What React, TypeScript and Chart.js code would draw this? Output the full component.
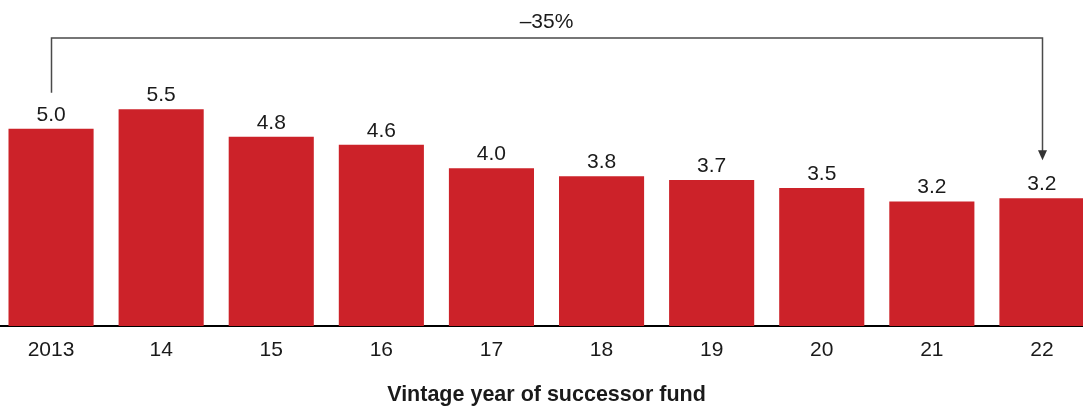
import React, { useEffect, useRef } from "react";
import { Chart, registerables } from "chart.js";

Chart.register(...registerables);

const categories = ["2013", "14", "15", "16", "17", "18", "19", "20", "21", "22"];
const values = [5.0, 5.5, 4.8, 4.6, 4.0, 3.8, 3.7, 3.5, 3.16, 3.24];
const changeLabel = "\u201335%";
const changeFrom = 0;
const changeTo = 9;
const axisTitle = "Vintage year of successor fund";

const FONT = "'Liberation Sans', Arial, Helvetica, sans-serif";
const BAR_COLOR = "#CC2229";
const TEXT_COLOR = "#1a1a1a";
const LINE_COLOR = "#4a4a4a";

const valueLabelPlugin = {
  id: "valueLabels",
  afterDatasetsDraw(chart: any) {
    const ctx = chart.ctx;
    const meta = chart.getDatasetMeta(0);
    ctx.save();
    ctx.font = `21px ${FONT}`;
    ctx.fillStyle = TEXT_COLOR;
    ctx.textAlign = "center";
    ctx.textBaseline = "alphabetic";
    meta.data.forEach((el: any, i: number) => {
      ctx.fillText(values[i].toFixed(1), el.x, el.y - 8);
    });
    ctx.restore();
  },
};

const bracketPlugin = {
  id: "bracket",
  afterDatasetsDraw(chart: any) {
    const ctx = chart.ctx;
    const meta = chart.getDatasetMeta(0);
    const a = meta.data[changeFrom];
    const b = meta.data[changeTo];
    const yTop = chart.chartArea.top - 12;
    const x1 = Math.round(a.x) + 0.5;
    const x2 = Math.round(b.x) + 0.5;
    const yStart = a.y - 36;
    const yTip = b.y - 38;
    ctx.save();
    ctx.strokeStyle = LINE_COLOR;
    ctx.lineWidth = 1.5;
    ctx.beginPath();
    ctx.moveTo(x1, yStart);
    ctx.lineTo(x1, yTop);
    ctx.lineTo(x2, yTop);
    ctx.lineTo(x2, yTip - 9);
    ctx.stroke();
    ctx.fillStyle = "#333";
    ctx.beginPath();
    ctx.moveTo(x2 - 4.5, yTip - 10);
    ctx.lineTo(x2 + 4.5, yTip - 10);
    ctx.lineTo(x2, yTip);
    ctx.closePath();
    ctx.fill();
    ctx.font = `21px ${FONT}`;
    ctx.fillStyle = TEXT_COLOR;
    ctx.textAlign = "center";
    ctx.textBaseline = "alphabetic";
    ctx.fillText(changeLabel, (a.x + b.x) / 2, yTop - 10);
    ctx.restore();
  },
};

export default function App() {
  const canvasRef = useRef<HTMLCanvasElement | null>(null);

  useEffect(() => {
    if (!canvasRef.current) return;
    const chart = new Chart(canvasRef.current, {
      type: "bar",
      data: {
        labels: categories,
        datasets: [
          {
            data: values,
            backgroundColor: BAR_COLOR,
            borderWidth: 0,
            categoryPercentage: 1,
            barPercentage: 0.773,
          },
        ],
      },
      options: {
        animation: false,
        responsive: true,
        maintainAspectRatio: false,
        layout: { padding: { top: 50, left: 0, right: 0, bottom: 0 } },
        plugins: {
          legend: { display: false },
          tooltip: { enabled: false },
        },
        scales: {
          x: {
            grid: { display: false, drawTicks: false },
            border: { display: true, color: "#000", width: 2 },
            ticks: {
              color: TEXT_COLOR,
              font: { family: FONT, size: 21 },
              padding: 12,
              maxRotation: 0,
              autoSkip: false,
            },
            title: {
              display: true,
              text: axisTitle,
              color: TEXT_COLOR,
              font: { family: FONT, size: 21.5, weight: "bold" },
              padding: { top: 7, bottom: -2 },
            },
          },
          y: {
            display: false,
            min: 0,
            max: 7,
          },
        },
      },
      plugins: [valueLabelPlugin, bracketPlugin],
    });
    return () => chart.destroy();
  }, []);

  return (
    <div
      style={{
        position: "absolute",
        left: 0,
        top: 0,
        width: 1083,
        height: 406,
        overflow: "hidden",
        background: "#fff",
      }}
    >
      <div style={{ position: "absolute", left: -4, top: 0, width: 1101, height: 406 }}>
        <canvas ref={canvasRef} />
      </div>
    </div>
  );
}
